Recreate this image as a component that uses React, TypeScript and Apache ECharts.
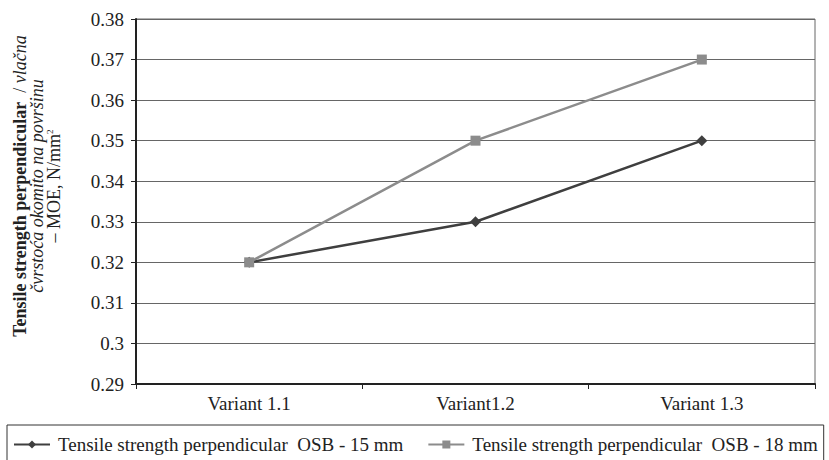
import React, { useEffect, useRef } from "react";
import * as echarts from "echarts";

const categories = ["Variant 1.1", "Variant1.2", "Variant 1.3"];
const osb15 = [0.32, 0.33, 0.35];
const osb18 = [0.32, 0.35, 0.37];
const seriesNames = [
  "Tensile strength perpendicular  OSB - 15 mm",
  "Tensile strength perpendicular  OSB - 18 mm",
];
const yTitle =
  "{b|Tensile strength perpendicular}{n|  / }{i|vlačna}\n{i|čvrstoća okomito na površinu}\n{n|– MOE, N/mm}{s|2}";

const FONT = "'Liberation Serif', 'Times New Roman', serif";

export default function App() {
  const ref = useRef<HTMLDivElement>(null);
  useEffect(() => {
    if (!ref.current) return;
    const chart = echarts.init(ref.current, undefined, { renderer: "svg" });
    chart.setOption({
      animation: false,
      backgroundColor: "#fff",
      textStyle: { fontFamily: FONT },
      grid: {
        left: 136,
        top: 19,
        right: 14,
        bottom: 76,
        show: true,
        borderColor: "#666",
        borderWidth: 1,
      },
      legend: {
        left: 7,
        top: 425,
        padding: [10, 6, 14, 6],
        borderColor: "#333",
        borderWidth: 1,
        itemWidth: 36,
        itemHeight: 10,
        itemGap: 24,
        textStyle: { fontFamily: FONT, fontSize: 19, color: "#222", padding: [0, 0, 0, 3] },
        data: seriesNames,
      },
      graphic: [
        {
          type: "text",
          x: 37,
          y: 186,
          rotation: Math.PI / 2,
          style: {
            text: yTitle,
            align: "center",
            verticalAlign: "middle",
            fontFamily: FONT,
            fontSize: 18,
            lineHeight: 17,
            fill: "#222",
            rich: {
              b: { fontFamily: FONT, fontSize: 18, fontWeight: "bold", fill: "#222", lineHeight: 17 },
              i: { fontFamily: FONT, fontSize: 18, fontStyle: "italic", fill: "#222", lineHeight: 17 },
              n: { fontFamily: FONT, fontSize: 18, fill: "#222", lineHeight: 17 },
              s: { fontFamily: FONT, fontSize: 9, fill: "#222", verticalAlign: "top", lineHeight: 17 },
            },
          },
        },
      ],
      xAxis: {
        type: "category",
        data: categories,
        boundaryGap: true,
        axisLine: { lineStyle: { color: "#222", width: 2 } },
        axisTick: { show: true, alignWithLabel: false, length: 5, lineStyle: { color: "#222" } },
        axisLabel: { fontFamily: FONT, fontSize: 19, color: "#222", margin: 10 },
        splitLine: { show: false },
      },
      yAxis: {
        type: "value",
        min: 0.29,
        max: 0.38,
        interval: 0.01,
        axisLine: { show: true, lineStyle: { color: "#222", width: 2 } },
        axisTick: { show: true, length: 5, lineStyle: { color: "#222" } },
        axisLabel: {
          fontFamily: FONT,
          fontSize: 19,
          color: "#222",
          margin: 12,
          formatter: (v: number) => String(+v.toFixed(2)),
        },
        splitLine: { show: true, lineStyle: { color: "#666", width: 1 } },
      },
      series: [
        {
          name: seriesNames[0],
          type: "line",
          data: osb15,
          symbol: "diamond",
          symbolSize: 11,
          lineStyle: { color: "#3f3f3f", width: 2.5 },
          itemStyle: { color: "#3f3f3f" },
          z: 3,
        },
        {
          name: seriesNames[1],
          type: "line",
          data: osb18,
          symbol: "rect",
          symbolSize: 10,
          lineStyle: { color: "#8c8c8c", width: 2.5 },
          itemStyle: { color: "#8c8c8c" },
          z: 4,
        },
      ],
    });
    return () => chart.dispose();
  }, []);
  return (
    <div
      ref={ref}
      style={{ position: "fixed", left: 0, top: 0, width: 829, height: 460 }}
    />
  );
}
